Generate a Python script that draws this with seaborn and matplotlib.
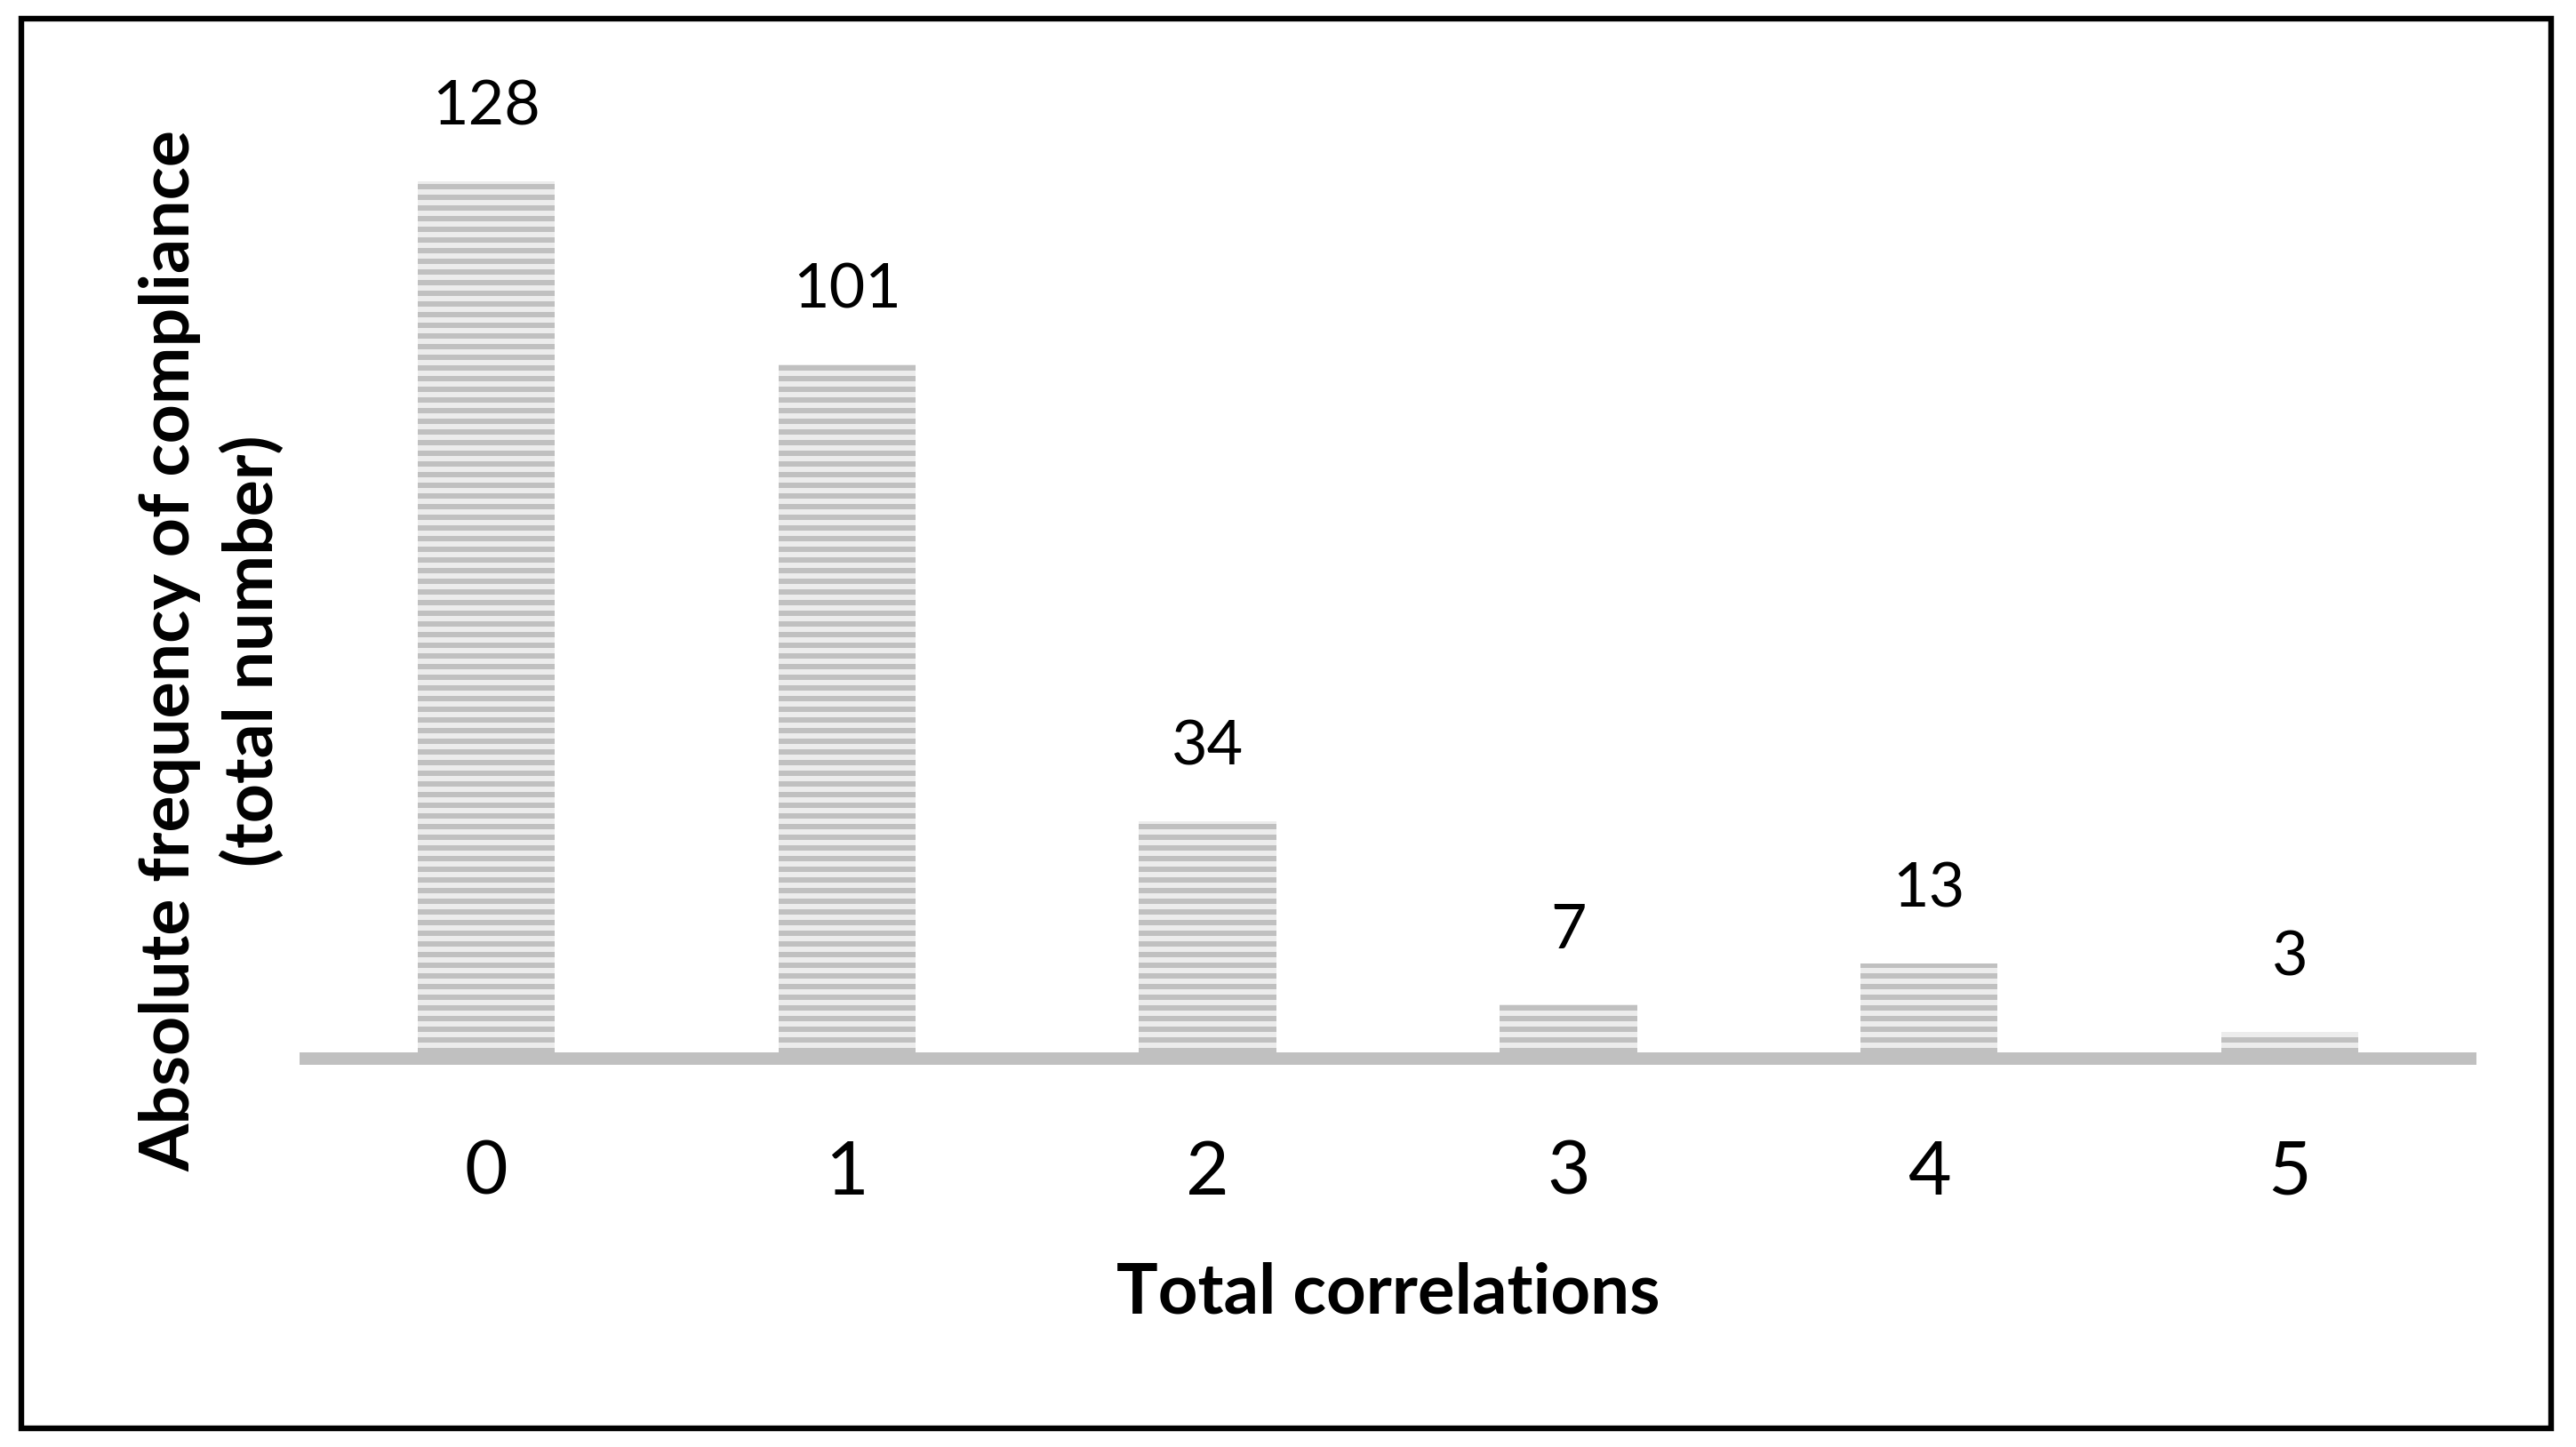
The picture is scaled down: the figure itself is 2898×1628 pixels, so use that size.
import matplotlib
matplotlib.use("Agg")
import matplotlib.pyplot as plt
import seaborn as sns
import pandas as pd
from matplotlib.patches import Rectangle

# data
categories = ["0", "1", "2", "3", "4", "5"]
counts = [128, 101, 34, 7, 13, 3]

sns.set_style("white")
plt.rcParams["font.family"] = ["Lato", "DejaVu Sans"]
plt.rcParams["text.color"] = "black"
plt.rcParams["xtick.color"] = "black"
plt.rcParams["hatch.linewidth"] = 3.0
plt.rcParams["hatch.color"] = "#c0c0c0"

df = pd.DataFrame({"corr": categories, "n": counts})

fig = plt.figure(figsize=(2898 / 144, 1628 / 144), dpi=144)
ax = fig.add_axes([344 / 2898, 1 - 1191 / 1628, (2779 - 344) / 2898, (1191 - 150) / 1628])

sns.barplot(data=df, x="corr", y="n", color="#ececec", width=0.38,
            saturation=1, ax=ax)
for p in ax.patches:
    p.set_hatch("--")
    p.set_edgecolor("#c0c0c0")
    p.set_linewidth(0)

# value labels
for i, v in enumerate(counts):
    ax.annotate(str(v), (i, v), xytext=(0, 41.5), textcoords="offset points",
                ha="center", va="center", fontsize=35, color="black")

ax.set_xlim(-0.5, 5.5)
ax.set_ylim(-0.914, 135)
ax.set_yticks([])
for s in ["top", "left", "right"]:
    ax.spines[s].set_visible(False)
ax.spines["bottom"].set_color("#c0c0c0")
ax.spines["bottom"].set_linewidth(7)
ax.tick_params(axis="x", length=0, pad=46, labelsize=42, labelcolor="black")
ax.set_xlabel("")
ax.set_ylabel("")

fig.text(1562 / 2898, 1 - 1456 / 1628, "Total correlations", ha="center", va="center",
         fontsize=39, fontweight="bold", color="black")
fig.text(238 / 2898, 1 - 732 / 1628, "Absolute frequency of compliance\n(total number)",
         ha="center", va="center", rotation=90, fontsize=38.5, fontweight="bold",
         linespacing=1.35, color="black")

# outer frame
fig.patches.append(Rectangle((23.5 / 2898, 1 - 1606.5 / 1628),
                             (2870 - 23.5) / 2898, (1606.5 - 21) / 1628,
                             transform=fig.transFigure, fill=False,
                             edgecolor="black", linewidth=3.2))

fig.savefig("out.png", dpi=144, facecolor="white")
